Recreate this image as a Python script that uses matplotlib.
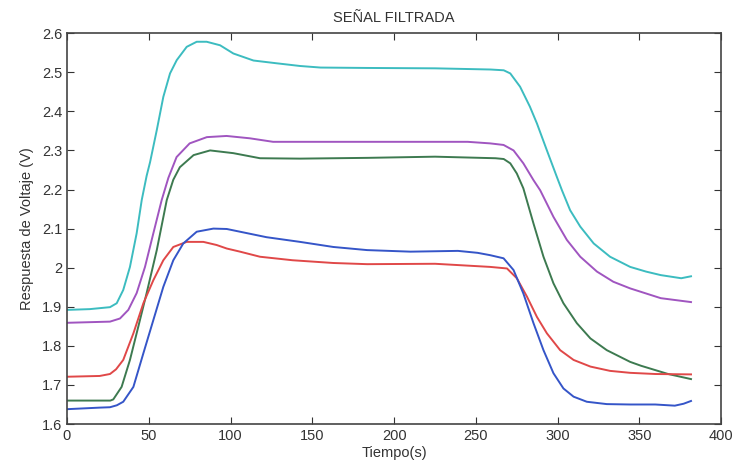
import matplotlib.pyplot as plt

plt.rcParams['font.family'] = ['Liberation Sans', 'DejaVu Sans']

# datos (tiempo en s, voltaje en V)
t_cian = [0, 14, 26.3, 30.4, 34.4, 38.5, 42.6, 45.7, 48.7, 50.8, 54.9, 58.9, 63, 67.1, 73.2, 79.3,
          85.4, 93.6, 101.7, 114, 128, 142.5, 155, 183, 225, 259, 267, 271, 277, 283, 287.3, 293.4,
          299.5, 302.6, 307.6, 313.8, 322, 332, 344.3, 354, 363, 375.5, 381.5]
v_cian = [1.892, 1.894, 1.899, 1.909, 1.943, 2.002, 2.088, 2.173, 2.235, 2.27, 2.352, 2.437, 2.497,
          2.531, 2.565, 2.578, 2.578, 2.569, 2.548, 2.530, 2.523, 2.516, 2.512, 2.511, 2.510, 2.507,
          2.505, 2.497, 2.463, 2.412, 2.369, 2.30, 2.232, 2.198, 2.147, 2.105, 2.062, 2.028, 2.002,
          1.99, 1.981, 1.973, 1.978]

t_morado = [0, 26.3, 32.4, 37.5, 42.6, 47.7, 52.8, 57.9, 62, 67, 75, 85.5, 97.6, 111.8, 126, 184,
            245, 258.7, 266.9, 273, 279, 285.2, 289.3, 297.4, 305.6, 313.8, 324, 334, 344.3, 363, 381.5]
v_morado = [1.859, 1.862, 1.87, 1.892, 1.935, 2.002, 2.088, 2.173, 2.23, 2.283, 2.318, 2.334, 2.337,
            2.331, 2.322, 2.322, 2.322, 2.318, 2.314, 2.30, 2.267, 2.224, 2.198, 2.13, 2.071, 2.028,
            1.99, 1.964, 1.947, 1.922, 1.912]

t_verde = [0, 26.5, 28.3, 33.4, 38.5, 43.6, 48.7, 54.9, 61, 65, 69, 77.4, 87.5, 101.7, 118, 142.5,
           184, 225, 262, 267, 271, 275, 279, 285.2, 291.3, 297.4, 303.5, 311.7, 320, 330, 344.3, 351,
           367.5, 381.5]
v_verde = [1.66, 1.66, 1.663, 1.695, 1.764, 1.849, 1.935, 2.045, 2.173, 2.225, 2.257, 2.288, 2.30,
           2.293, 2.28, 2.279, 2.281, 2.284, 2.28, 2.278, 2.267, 2.241, 2.203, 2.113, 2.028, 1.96,
           1.909, 1.858, 1.819, 1.789, 1.759, 1.749, 1.728, 1.715]

t_rojo = [0, 20, 26.3, 30, 34.4, 40.6, 46.7, 52.8, 58.9, 65, 73.2, 83.4, 91.5, 97.7, 105.8, 118, 138,
          162.8, 183.5, 225, 258.7, 269, 275, 281.2, 287.3, 293.4, 301.5, 309.7, 320, 332, 344.3,
          359.6, 381.5]
v_rojo = [1.721, 1.723, 1.728, 1.74, 1.764, 1.832, 1.909, 1.968, 2.019, 2.053, 2.066, 2.066, 2.058,
          2.049, 2.041, 2.028, 2.019, 2.012, 2.009, 2.01, 2.002, 1.998, 1.973, 1.926, 1.874, 1.832,
          1.789, 1.764, 1.747, 1.736, 1.731, 1.728, 1.727]

t_azul = [0, 20, 26.3, 30.5, 34.4, 40.6, 46.7, 52.8, 58.9, 65, 71.1, 79.3, 89.5, 97.7, 105.8, 122,
          142.5, 162.8, 183.5, 210, 239, 251, 258.7, 266.9, 273, 279, 285.2, 291.3, 297.4, 303.5,
          309.7, 317.8, 330, 344.3, 359.6, 371.6, 377, 381.5]
v_azul = [1.638, 1.642, 1.643, 1.648, 1.657, 1.695, 1.781, 1.866, 1.951, 2.019, 2.062, 2.092, 2.1,
          2.099, 2.092, 2.078, 2.066, 2.053, 2.045, 2.041, 2.043, 2.038, 2.032, 2.024, 1.994, 1.934,
          1.858, 1.789, 1.73, 1.691, 1.67, 1.657, 1.651, 1.65, 1.65, 1.647, 1.652, 1.659]

fig = plt.figure(figsize=(7.36, 4.67), dpi=100)
ax = fig.add_axes([0.091, 0.092, 0.889, 0.837])

ax.plot(t_cian, v_cian, color='#3cbcc0', lw=1.4)
ax.plot(t_morado, v_morado, color='#a055c0', lw=1.4)
ax.plot(t_verde, v_verde, color='#3d7a50', lw=1.4)
ax.plot(t_rojo, v_rojo, color='#e04848', lw=1.4)
ax.plot(t_azul, v_azul, color='#3555c8', lw=1.4)

ax.set_xlim(0, 400)
ax.set_ylim(1.6, 2.6)
ax.set_xticks(range(0, 401, 50))
ax.set_yticks([1.6, 1.7, 1.8, 1.9, 2.0, 2.1, 2.2, 2.3, 2.4, 2.5, 2.6])
ax.set_yticklabels(['1.6', '1.7', '1.8', '1.9', '2', '2.1', '2.2', '2.3', '2.4', '2.5', '2.6'])
ax.tick_params(direction='in', top=True, right=True, length=5, labelsize=10.5, colors='#333333')
for s in ax.spines.values():
    s.set_color('#444444')
    s.set_linewidth(1.2)

ax.set_title('SEÑAL FILTRADA', fontsize=10.5, color='#333333', pad=8)
ax.set_xlabel('Tiempo(s)', fontsize=10.5, color='#333333', labelpad=2)
ax.set_ylabel('Respuesta de Voltaje (V)', fontsize=10.5, color='#333333', labelpad=6)

fig.savefig('out.png', dpi=100)
